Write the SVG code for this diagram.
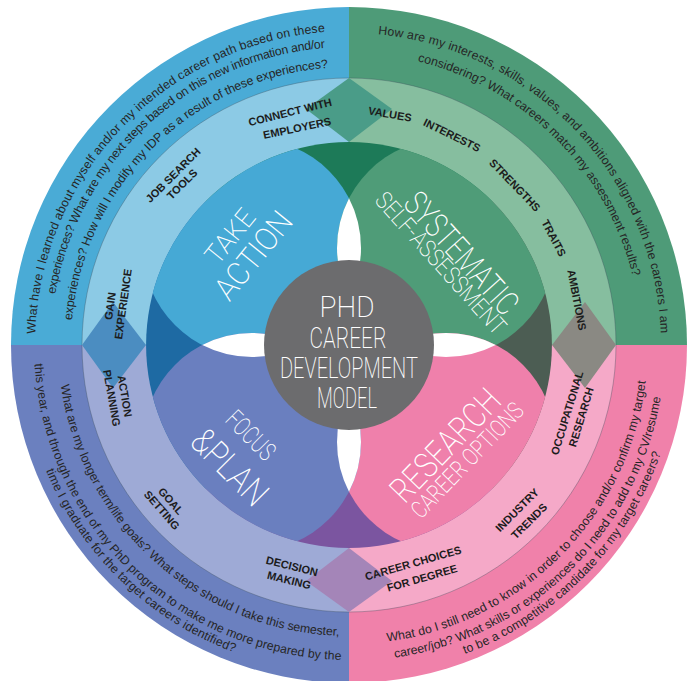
<svg xmlns="http://www.w3.org/2000/svg" width="694" height="681" viewBox="0 0 694 681">
<defs>
<style>
.q{font-family:"Liberation Sans",Arial,sans-serif;font-size:12.3px;fill:#262626}
.lab{font-family:"Liberation Sans",Arial,sans-serif;font-size:11px;font-weight:bold;fill:#1c1c1c;text-anchor:middle}
.ttl{font-family:Roboto,"Liberation Sans Narrow",sans-serif;font-weight:200;fill:#ffffff;text-anchor:middle}
</style>
<clipPath id="inner"><circle cx="349" cy="345" r="203"/></clipPath>
<path id="pTA1" d="M47.5 432.6 A314 314 0 0 1 423.9 40.1"/>
<path id="pTA2" d="M57.9 409 A298 298 0 0 1 439.1 60.9"/>
<path id="pTA3" d="M80 415.1 A278 278 0 0 1 422.8 77"/>
<path id="pSS1" d="M276.7 41.5 A312 312 0 0 1 648 434.1"/>
<path id="pSS2" d="M273.4 63 A292 292 0 0 1 631 420.6"/>
<path id="pRC1" d="M272.6 634.1 A299 299 0 0 0 637.5 266.6"/>
<path id="pRC2" d="M264 649.4 A316 316 0 0 0 655.1 266.4"/>
<path id="pRC3" d="M267.5 664.8 A330 330 0 0 0 666.7 255.7"/>
<path id="pFP1" d="M64.4 284.5 A291 291 0 0 0 438.9 621.8"/>
<path id="pFP2" d="M43.4 268.8 A315 315 0 0 0 435.8 647.8"/>
<path id="pFP3" d="M30.7 265.7 A328 328 0 0 0 439.4 660.3"/>
</defs>
<rect width="694" height="681" fill="#ffffff"/>

<g id="outer-ring">
<path d="M349 345 L11 345 A338 338 0 0 1 349 7 Z" fill="#4aabd6"/>
<path d="M349 345 L349 7 A338 338 0 0 1 687 345 Z" fill="#4e9b78"/>
<path d="M349 345 L687 345 A338 338 0 0 1 349 683 Z" fill="#f081aa"/>
<path d="M349 345 L349 683 A338 338 0 0 1 11 345 Z" fill="#6b80bf"/>
</g>
<g id="middle-ring">
<path d="M349 345 L82 345 A267 267 0 0 1 349 78 Z" fill="#8ccae5"/>
<path d="M349 345 L349 78 A267 267 0 0 1 616 345 Z" fill="#86be9f"/>
<path d="M349 345 L616 345 A267 267 0 0 1 349 612 Z" fill="#f5a9c8"/>
<path d="M349 345 L349 612 A267 267 0 0 1 82 345 Z" fill="#9eaad6"/>
<circle cx="349" cy="345" r="267" fill="none" stroke="#3a4a5a" stroke-opacity="0.35" stroke-width="1"/>
</g>
<g id="diamonds">
<polygon points="349,78 392,109 349,142 306,109" fill="#4a9c88"/>
<polygon points="616,345 585,388 552,345 585,302" fill="#8a8983"/>
<polygon points="349,612 306,581 349,548 392,581" fill="#a485b8"/>
<polygon points="82,345 113,302 146,345 113,388" fill="#4b8dc1"/>
</g>
<g id="inner-gaps">
<path d="M349 345 L205.5 201.5 A203 203 0 0 1 492.5 201.5 Z" fill="#1d7a58"/>
<path d="M349 345 L492.5 201.5 A203 203 0 0 1 492.5 488.5 Z" fill="#4c5d53"/>
<path d="M349 345 L492.5 488.5 A203 203 0 0 1 205.5 488.5 Z" fill="#7b55a0"/>
<path d="M349 345 L205.5 488.5 A203 203 0 0 1 205.5 201.5 Z" fill="#1e6aa3"/>
</g>
<g id="quadrant-circles" clip-path="url(#inner)">
<circle cx="252" cy="248" r="109" fill="#46a9d5"/>
<circle cx="446" cy="248" r="109" fill="#4f9c78"/>
<circle cx="446" cy="442" r="109" fill="#ef80ab"/>
<circle cx="252" cy="442" r="109" fill="#6a7fbf"/>
</g>
<g id="overlaps" fill="#ffffff">
<path d="M349 198.3 A109 109 0 0 1 349 297.7 A109 109 0 0 1 349 198.3 Z"/>
<path d="M396.3 345 A109 109 0 0 1 495.7 345 A109 109 0 0 1 396.3 345 Z"/>
<path d="M349 392.3 A109 109 0 0 1 349 491.7 A109 109 0 0 1 349 392.3 Z"/>
<path d="M202.3 345 A109 109 0 0 1 301.7 345 A109 109 0 0 1 202.3 345 Z"/>
</g>

<g id="center">
<circle cx="349" cy="345" r="85" fill="#6c6c6e"/>
<text class="ttl" font-size="30" x="347" y="317" textLength="55" lengthAdjust="spacingAndGlyphs">PHD</text>
<text class="ttl" font-size="30" x="348" y="348" textLength="77" lengthAdjust="spacingAndGlyphs">CAREER</text>
<text class="ttl" font-size="30" x="349" y="378" textLength="138" lengthAdjust="spacingAndGlyphs">DEVELOPMENT</text>
<text class="ttl" font-size="30" x="347" y="408" textLength="60" lengthAdjust="spacingAndGlyphs">MODEL</text>
</g>

<g id="take-action">
<g transform="translate(241.5,245.5) rotate(-51)">
<text class="ttl" font-size="27" x="0" y="-5.4" textLength="62" lengthAdjust="spacingAndGlyphs">TAKE</text>
<text class="ttl" font-size="32" x="0" y="26.4" textLength="103" lengthAdjust="spacingAndGlyphs">ACTION</text>
</g>
<text class="lab" transform="translate(290,112) rotate(-14)" y="4">CONNECT WITH</text>
<text class="lab" transform="translate(297,128) rotate(-12)" y="4">EMPLOYERS</text>
<text class="lab" transform="translate(173,175) rotate(-45)" y="4">JOB SEARCH</text>
<text class="lab" transform="translate(182,184) rotate(-45)" y="4">TOOLS</text>
<text class="lab" transform="translate(110,306) rotate(-82)" y="4">GAIN</text>
<text class="lab" transform="translate(123,304) rotate(-82)" y="4">EXPERIENCE</text>
<text class="q"><textPath href="#pTA1" startOffset="50%" text-anchor="middle" textLength="458">What have I learned about myself and/or my intended career path based on these</textPath></text>
<text class="q"><textPath href="#pTA2" startOffset="50%" text-anchor="middle" textLength="393">experiences?  What are my next steps based on this new information and/or</textPath></text>
<text class="q"><textPath href="#pTA3" startOffset="50%" text-anchor="middle" textLength="391">experiences?  How will I modify my IDP as a result of these experiences?</textPath></text>
</g>

<g id="systematic-self-assessment">
<g transform="translate(451,258) rotate(48)">
<text class="ttl" font-size="34" x="3.6" y="0.6" textLength="152" lengthAdjust="spacingAndGlyphs">SYSTEMATIC</text>
<text class="ttl" font-size="24" x="-3" y="19.3" textLength="182" lengthAdjust="spacingAndGlyphs">SELF-ASSESSMENT</text>
</g>
<text class="lab" transform="translate(390,114) rotate(10)" y="4">VALUES</text>
<text class="lab" transform="translate(452,135) rotate(26)" y="4">INTERESTS</text>
<text class="lab" transform="translate(515,185) rotate(46)" y="4">STRENGTHS</text>
<text class="lab" transform="translate(554,238) rotate(62)" y="4">TRAITS</text>
<text class="lab" transform="translate(577,300) rotate(79)" y="4">AMBITIONS</text>
<text class="q"><textPath href="#pSS1" startOffset="50%" text-anchor="middle" textLength="449">How are my interests, skills, values, and ambitions aligned with the careers I am</textPath></text>
<text class="q"><textPath href="#pSS2" startOffset="50%" text-anchor="middle" textLength="320">considering?  What careers match my assessment results?</textPath></text>
</g>

<g id="research-career-options">
<g transform="translate(456,452) rotate(-46)">
<text class="ttl" font-size="35" x="-2.6" y="-0.3" textLength="142" lengthAdjust="spacingAndGlyphs">RESEARCH</text>
<text class="ttl" font-size="24" x="1.9" y="22" textLength="150" lengthAdjust="spacingAndGlyphs">CAREER OPTIONS</text>
</g>
<text class="lab" transform="translate(567,413) rotate(-73)" y="4">OCCUPATIONAL</text>
<text class="lab" transform="translate(581,417) rotate(-73)" y="4">RESEARCH</text>
<text class="lab" transform="translate(517,510) rotate(-45)" y="4">INDUSTRY</text>
<text class="lab" transform="translate(529,521) rotate(-45)" y="4">TRENDS</text>
<text class="lab" transform="translate(413,563) rotate(-16)" y="4">CAREER CHOICES</text>
<text class="lab" transform="translate(422,578) rotate(-16)" y="4">FOR DEGREE</text>
<text class="q"><textPath href="#pRC1" startOffset="50%" text-anchor="middle" textLength="395">What do I still need to know in order to choose and/or confirm my target</textPath></text>
<text class="q"><textPath href="#pRC2" startOffset="50%" text-anchor="middle" textLength="398">career/job? What skills or experiences do I need to add to my CV/resume</textPath></text>
<text class="q"><textPath href="#pRC3" startOffset="50%" text-anchor="middle" textLength="290">to be a competitive candidate for my target careers?</textPath></text>
</g>

<g id="focus-and-plan">
<g transform="translate(240,451) rotate(45)">
<text class="ttl" font-size="26" x="-3.5" y="-9.8" textLength="58" lengthAdjust="spacingAndGlyphs">FOCUS</text>
<text class="ttl" font-size="36" x="4.2" y="31.2" textLength="92" lengthAdjust="spacingAndGlyphs">&amp;PLAN</text>
</g>
<text class="lab" transform="translate(125,396) rotate(80)" y="4">ACTION</text>
<text class="lab" transform="translate(112,398) rotate(80)" y="4">PLANNING</text>
<text class="lab" transform="translate(171,501) rotate(49)" y="4">GOAL</text>
<text class="lab" transform="translate(162,510) rotate(49)" y="4">SETTING</text>
<text class="lab" transform="translate(292,566) rotate(14)" y="4">DECISION</text>
<text class="lab" transform="translate(289,580) rotate(14)" y="4">MAKING</text>
<text class="q"><textPath href="#pFP1" startOffset="50%" text-anchor="middle" textLength="407">What are my longer term/life goals?  What steps should I take this semester,</textPath></text>
<text class="q"><textPath href="#pFP2" startOffset="50%" text-anchor="middle" textLength="468">this year, and through the end of my PhD program to make me more prepared by the</textPath></text>
<text class="q"><textPath href="#pFP3" startOffset="50%" text-anchor="middle" textLength="269">time I graduate for the target careers identified?</textPath></text>
</g>
</svg>
